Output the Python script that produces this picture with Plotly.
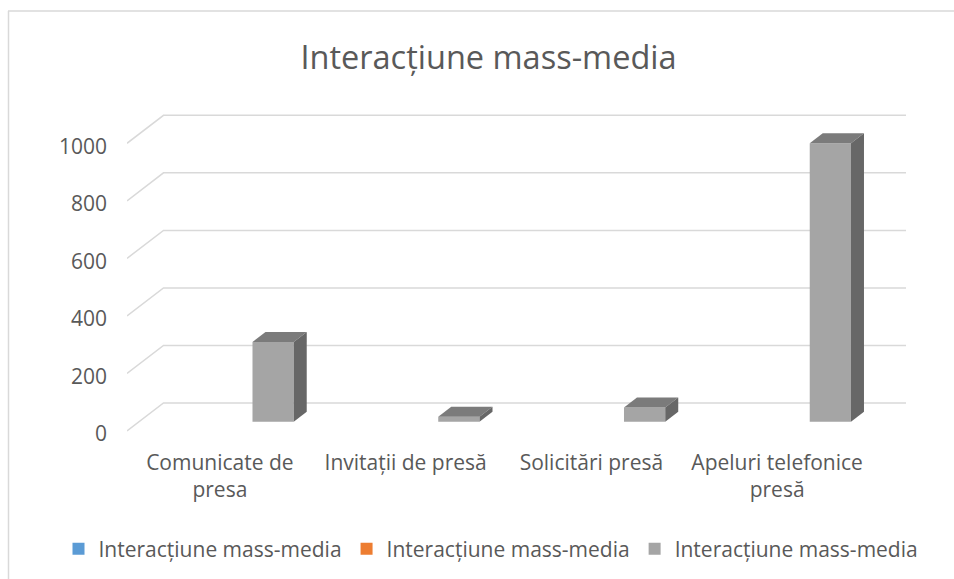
import plotly.graph_objects as go

# ---- data ----
categories = ["Comunicate de<br>presa", "Invitații de presă", "Solicitări presă",
              "Apeluri telefonice<br>presă"]
series_names = ["Interacțiune mass-media", "Interacțiune mass-media", "Interacțiune mass-media"]
series_colors = ["#5B9BD5", "#ED7D31", "#A5A5A5"]
series_values = [
    [0, 0, 0, 0],
    [0, 0, 0, 0],
    [277, 17, 49, 968],
]
y_ticks = [0, 200, 400, 600, 800, 1000]
title_text = "Interacțiune mass-media"

# ---- page geometry (pixels) ----
W, H = 954, 579
PAGE_L, PAGE_R = 30, 940            # plotting area used by the legend layout
AX_L, AX_R, PLOT_T, PLOT_B = 127, 906, 100, 436   # the floor/wall box
FLOOR_PX = 431          # pixel row of value 0 on the front plane
PX_PER_UNIT = 0.2877    # vertical pixels per data unit
CAT_PX = 185.75         # pixels per category slot

X_MIN = -0.5
X_MAX = X_MIN + (AX_R - AX_L) / CAT_PX
Y_MIN = (FLOOR_PX - PLOT_B) / PX_PER_UNIT
Y_MAX = (FLOOR_PX - PLOT_T) / PX_PER_UNIT


def dx(p):
    return p / CAT_PX


def dy(p):
    return p / PX_PER_UNIT


def xp(px):
    return (px - PAGE_L) / (PAGE_R - PAGE_L)


def yp(py):
    return (PLOT_B - py) / (PLOT_B - PLOT_T)


# depth of the floor/back wall, position of the column plane, column depth
WALL_DX, WALL_DY = dx(36.5), dy(28)
PLANE_DX, PLANE_DY = dx(12), dy(9.3)
COL_DX, COL_DY = dx(13), dy(10)
BAR_W = 0.222
offsets = [-BAR_W, 0.0, BAR_W]

TEXT = "#595959"
GRID = "#D9D9D9"
FONT = "Open Sans"

fig = go.Figure()
shapes = []

# gridlines: front edge slanting back to the wall, then across the wall
for v in y_ticks:
    shapes.append(dict(
        type="path", xref="x", yref="y", layer="below",
        path=f"M {X_MIN},{v} L {X_MIN + WALL_DX},{v + WALL_DY} L {X_MAX},{v + WALL_DY}",
        line=dict(color=GRID, width=1.5),
    ))

for s, (name, color, vals) in enumerate(zip(series_names, series_colors, series_values)):
    xs = [i + offsets[s] + PLANE_DX for i in range(len(categories))]
    fig.add_trace(go.Bar(
        x=xs, y=vals, base=PLANE_DY, width=BAR_W, name=name,
        marker=dict(color=color, line=dict(width=0)),
        hovertemplate="%{y}<extra></extra>",
    ))
    for xc, v in zip(xs, vals):
        if v <= 0:
            continue
        x0, x1 = xc - BAR_W / 2, xc + BAR_W / 2
        b, t = PLANE_DY, PLANE_DY + v
        # top face
        shapes.append(dict(
            type="path", xref="x", yref="y", layer="above",
            path=(f"M {x0},{t} L {x0 + COL_DX},{t + COL_DY} L {x1 + COL_DX},{t + COL_DY} "
                  f"L {x1},{t} Z"),
            fillcolor="#7B7B7B", line=dict(width=0),
        ))
        # side face
        shapes.append(dict(
            type="path", xref="x", yref="y", layer="above",
            path=(f"M {x1},{b} L {x1},{t} L {x1 + COL_DX},{t + COL_DY} "
                  f"L {x1 + COL_DX},{b + COL_DY} Z"),
            fillcolor="#676767", line=dict(width=0),
        ))

# chart-area border (left and top edges)
shapes.append(dict(type="line", xref="paper", yref="paper",
                   x0=xp(8.5), y0=yp(11), x1=xp(8.5), y1=yp(585),
                   line=dict(color=GRID, width=1.5)))
shapes.append(dict(type="line", xref="paper", yref="paper",
                   x0=xp(8), y0=yp(11), x1=xp(960), y1=yp(11),
                   line=dict(color=GRID, width=1.5)))

fig.update_layout(
    width=W, height=H,
    margin=dict(l=PAGE_L, r=W - PAGE_R, t=PLOT_T, b=H - PLOT_B),
    paper_bgcolor="white", plot_bgcolor="white",
    barmode="overlay",
    font=dict(family=FONT, size=21, color=TEXT),
    title=dict(text=title_text, font=dict(family=FONT, size=32.5, color=TEXT),
               xref="container", yref="container",
               x=488.5 / W, xanchor="center", y=1 - 58 / H, yanchor="middle"),
    xaxis=dict(range=[X_MIN, X_MAX], domain=[xp(AX_L), xp(AX_R)], tickmode="array",
               tickvals=list(range(len(categories))), ticktext=categories,
               showgrid=False, zeroline=False, showline=False, ticks="",
               ticklabelstandoff=12, fixedrange=True),
    yaxis=dict(range=[Y_MIN, Y_MAX], tickmode="array", tickvals=y_ticks,
               showgrid=False, zeroline=False, showline=False, ticks="",
               ticklabelstandoff=19, ticklabelshift=3, fixedrange=True),
    legend=dict(orientation="h", xref="container", yref="container",
                x=491 / W, xanchor="center", y=1 - 549 / H, yanchor="middle",
                font=dict(family=FONT, size=21, color=TEXT),
                itemwidth=30, traceorder="normal"),
    shapes=shapes,
)

fig.write_html("out.html")
